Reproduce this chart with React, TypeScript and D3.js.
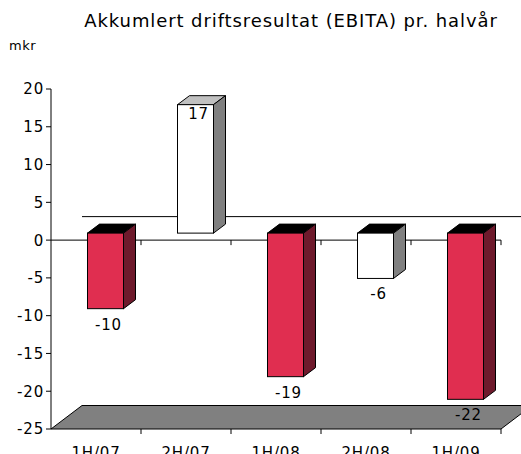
import * as d3 from 'd3';

const categories = ['1H/07', '2H/07', '1H/08', '2H/08', '1H/09'];
const values = [-10, 17, -19, -6, -22];
const yTicks = [20, 15, 10, 5, 0, -5, -10, -15, -20, -25];

const W = 521;
const H = 454;
const font = 'Verdana, "DejaVu Sans", sans-serif';

// 3D look: bar depth and the back wall offset
const depth = { dx: 12, dy: -9 };
const wall = { dx: 31, dy: -23.5 };
const shift = { dx: 9.5, dy: -7 };

const red = { front: '#E02E50', side: '#6E1A2C', top: '#000000' };
const white = { front: '#FFFFFF', side: '#808080', topPos: '#C0C0C0', topNeg: '#000000' };

export default function App() {
  const x = d3.scaleBand<string>().domain(categories).range([51, 501]).paddingInner(0);
  const y = d3.scaleLinear().domain([-25, 20]).range([429, 89]);
  const bw = x.bandwidth() * 0.4;

  const poly = (pts: [number, number][]) => pts.map(p => p.join(',')).join(' ');

  const bars = categories.map((c, i) => {
    const v = values[i];
    const isRed = i % 2 === 0;
    const x0 = (x(c) ?? 0) + x.bandwidth() / 2 - bw / 2 + shift.dx;
    const x1 = x0 + bw;
    const yT = y(Math.max(v, 0)) + shift.dy;
    const yB = y(Math.min(v, 0)) + shift.dy;
    const front = isRed ? red.front : white.front;
    const side = isRed ? red.side : white.side;
    const top = isRed ? red.top : v >= 0 ? white.topPos : white.topNeg;
    return (
      <g key={c} stroke="#000" strokeWidth={1}>
        <polygon
          points={poly([[x0, yT], [x0 + depth.dx, yT + depth.dy], [x1 + depth.dx, yT + depth.dy], [x1, yT]])}
          fill={top}
        />
        <polygon
          points={poly([[x1, yT], [x1 + depth.dx, yT + depth.dy], [x1 + depth.dx, yB + depth.dy], [x1, yB]])}
          fill={side}
        />
        <rect x={x0} y={yT} width={bw} height={yB - yT} fill={front} />
      </g>
    );
  });

  const labels = categories.map((c, i) => {
    const v = values[i];
    const cx = (x(c) ?? 0) + x.bandwidth() / 2 + shift.dx + 3;
    const ly = v >= 0 ? y(v) + shift.dy + 14 : y(v) + 14;
    return (
      <text key={c} x={cx} y={ly} textAnchor="middle" fontSize={15} letterSpacing={0.8} fill="#000">
        {v}
      </text>
    );
  });

  const y0 = y(0);
  const yMin = y(-25);

  return (
    <svg width={W} height={H} style={{ position: 'absolute', left: 0, top: 0, fontFamily: font }}>
      <rect width={W} height={H} fill="#fff" />
      <text x={291} y={27} textAnchor="middle" fontSize={18} letterSpacing={0.9} fill="#000">
        Akkumlert driftsresultat (EBITA) pr. halvår
      </text>
      <text x={9} y={50} fontSize={13} letterSpacing={0.5} fill="#000">mkr</text>

      {/* back wall zero line */}
      <line x1={51 + wall.dx} x2={W} y1={y0 + wall.dy} y2={y0 + wall.dy} stroke="#000" />

      {/* floor */}
      <polygon
        points={poly([[51, yMin], [51 + wall.dx, yMin + wall.dy], [501 + wall.dx, yMin + wall.dy], [501, yMin]])}
        fill="#808080"
        stroke="#000"
      />

      {/* zero line with category ticks */}
      <line x1={51} x2={501} y1={y0} y2={y0} stroke="#000" />
      {categories.map(c => (
        <line key={c} x1={(x(c) ?? 0) + x.bandwidth()} x2={(x(c) ?? 0) + x.bandwidth()} y1={y0} y2={y0 + 5} stroke="#000" />
      ))}
      {categories.map(c => (
        <line key={c} x1={(x(c) ?? 0) + x.bandwidth()} x2={(x(c) ?? 0) + x.bandwidth()} y1={yMin} y2={yMin + 5} stroke="#000" />
      ))}

      {bars}
      {labels}

      {/* value axis */}
      <line x1={51} x2={51} y1={y(20)} y2={yMin} stroke="#000" />
      {yTicks.map(t => (
        <g key={t}>
          <line x1={46} x2={51} y1={y(t)} y2={y(t)} stroke="#000" />
          <text x={44} y={y(t)} dy="0.36em" textAnchor="end" fontSize={15} letterSpacing={0.8} fill="#000">
            {t}
          </text>
        </g>
      ))}

      {categories.map(c => (
        <text key={c} x={(x(c) ?? 0) + x.bandwidth() / 2} y={458} textAnchor="middle" fontSize={15} letterSpacing={0.8} fill="#000">
          {c}
        </text>
      ))}
    </svg>
  );
}
